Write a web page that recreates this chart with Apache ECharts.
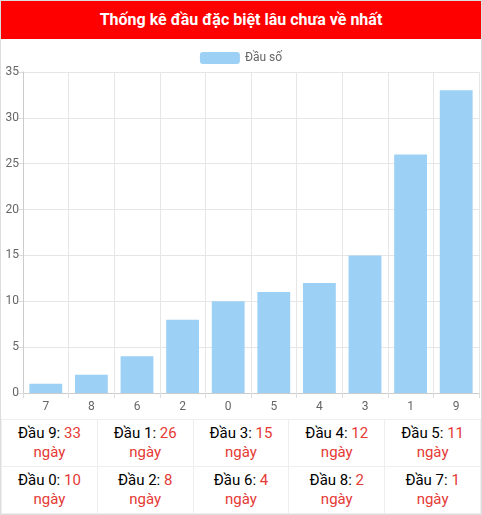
<!DOCTYPE html>
<html>
<head>
<meta charset="utf-8">
<script src="https://cdn.jsdelivr.net/npm/echarts@6/dist/echarts.min.js"></script>
<style>
    body { margin: 0; font-family: Roboto, "Noto Sans", sans-serif; }
    #wrap { width: 480px; height: 513px; border: 1px solid #ddd; position: relative; }
    #title { height: 38px; background: #ff0000; color: #fff; font-weight: bold; font-size: 16px; line-height: 38px; text-align: center; }
    #chart { width: 480px; height: 380px; }
    table { width: 480px; border-collapse: collapse; table-layout: fixed; }
    td { border: 1px solid #eee; text-align: center; height: 46px; font-size: 15px; color: #000; line-height: 19px; padding: 0; }
    td span, td .d { color: #e53935; }
</style>
</head>
<body>
<div id="wrap">
    <div id="title">Thống kê đầu đặc biệt lâu chưa về nhất</div>
    <div id="chart"></div>
    <table id="tbl"></table>
</div>
<script>
var categories = ['7', '8', '6', '2', '0', '5', '4', '3', '1', '9'];
var values = [1, 2, 4, 8, 10, 11, 12, 15, 26, 33];
var yTicks = [0, 5, 10, 15, 20, 25, 30, 35];

var chart = echarts.init(document.getElementById('chart'));
var option = {
    animation: false,
    textStyle: { fontFamily: 'Roboto' },
    legend: {
        top: 8,
        itemWidth: 40,
        itemHeight: 12,
        textStyle: { color: '#666', fontSize: 12 },
        data: ['Đầu số']
    },
    grid: { left: 22, right: 2, top: 33, bottom: 26 },
    xAxis: {
        type: 'category',
        data: categories,
        axisTick: { show: true, alignWithLabel: false, lineStyle: { color: '#ddd' } },
        axisLine: { lineStyle: { color: '#ccc' } },
        splitLine: { show: true, lineStyle: { color: '#e6e6e6' } },
        axisLabel: { color: '#666', fontSize: 12 }
    },
    yAxis: {
        type: 'value',
        min: yTicks[0],
        max: yTicks[yTicks.length - 1],
        interval: 5,
        axisLine: { show: true, lineStyle: { color: '#ccc' } },
        axisTick: { show: true, lineStyle: { color: '#ddd' } },
        splitLine: { lineStyle: { color: '#e6e6e6' } },
        axisLabel: { color: '#666', fontSize: 12, margin: 4 }
    },
    series: [{
        name: 'Đầu số',
        type: 'bar',
        barWidth: '72%',
        itemStyle: { color: '#9dd0f5' },
        data: values
    }]
};
chart.setOption(option);

// bảng bên dưới: sắp xếp giảm dần
var order = categories.map(function (c, i) { return { c: c, v: values[i] }; })
    .sort(function (a, b) { return b.v - a.v; });
var tbl = document.getElementById('tbl');
var html = '';
for (var r = 0; r < 2; r++) {
    html += '<tr>';
    for (var k = 0; k < 5; k++) {
        var it = order[r * 5 + k];
        html += '<td>Đầu ' + it.c + ': <span>' + it.v + '</span><br><span class="d">ngày</span></td>';
    }
    html += '</tr>';
}
tbl.innerHTML = html;
</script>
</body>
</html>
